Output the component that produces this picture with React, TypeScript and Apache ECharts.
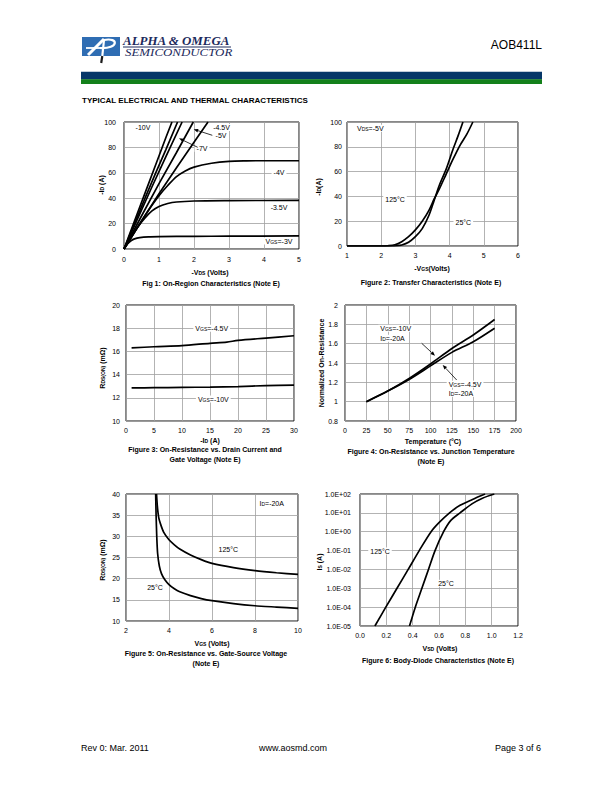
import React, { useEffect, useRef } from "react";
import * as echarts from "echarts";

// ---------- DATA ----------
// Fig 1: -ID vs -VDS for several VGS
const f1Vgs10 = [[0, 0], [0.3, 22], [0.6, 44], [0.9, 66], [1.2, 88], [1.37, 100]];
const f1Vgs7 = [[0, 0], [0.3, 20], [0.6, 40], [0.9, 59.5], [1.2, 78.5], [1.53, 100]];
const f1Vgs6 = [[0, 0], [0.4, 24.5], [0.8, 49], [1.2, 73], [1.66, 100]];
const f1Vgs5 = [[0, 0], [0.5, 26], [1, 51.5], [1.5, 76], [1.98, 100]];
const f1Vgs45 = [[0, 0], [0.5, 22], [1, 43.5], [1.5, 64], [2, 84], [2.4, 100]];
const f1Vgs4 = [[0, 0], [0.25, 11], [0.5, 22], [0.75, 32.5], [1, 42], [1.25, 50], [1.5, 57], [1.75, 61.5], [2, 64.5], [2.5, 67.5], [3, 69], [3.5, 69.4], [4, 69.5], [5, 69.5]];
const f1Vgs35 = [[0, 0], [0.2, 9], [0.4, 17.5], [0.6, 24.5], [0.8, 30], [1, 33.5], [1.25, 35.8], [1.5, 37], [2, 37.8], [3, 38.1], [5, 38.3]];
const f1Vgs3 = [[0, 0], [0.1, 4], [0.2, 6.5], [0.3, 8], [0.45, 9], [0.7, 9.6], [1, 9.8], [2, 10], [3, 10.1], [5, 10.3]];

// Fig 2: transfer characteristics
const f2T125 = [[1, 0], [2, 0], [2.2, 0.2], [2.4, 1], [2.6, 3.5], [2.8, 7.5], [3.0, 13], [3.2, 20], [3.4, 29], [3.55, 38], [3.7, 46], [3.9, 58], [4.1, 70], [4.3, 81], [4.5, 90], [4.68, 100]];
const f2T25 = [[1, 0], [2.3, 0], [2.45, 0.2], [2.6, 0.8], [2.8, 3], [3.0, 7.5], [3.2, 14], [3.4, 25], [3.55, 37], [3.7, 49], [3.9, 62], [4.1, 78], [4.25, 89], [4.39, 100]];

// Fig 3: RDS(ON) vs -ID
const f3Vgs45 = [[1, 16.3], [5, 16.4], [10, 16.5], [15, 16.7], [18, 16.8], [20, 16.95], [25, 17.15], [30, 17.35]];
const f3Vgs10 = [[1, 12.85], [5, 12.87], [10, 12.9], [15, 12.92], [20, 12.97], [25, 13.05], [30, 13.1]];

// Fig 4: normalized on-resistance vs temperature
const f4Temp = [25, 50, 75, 100, 125, 150, 175];
const f4Vgs10 = [1, 1.11, 1.24, 1.39, 1.55, 1.69, 1.85];
const f4Vgs45 = [1, 1.11, 1.23, 1.37, 1.51, 1.62, 1.76];

// Fig 5: RDS(ON) vs VGS
const f5T125 = [[3.42, 40], [3.46, 37], [3.52, 34.5], [3.6, 33], [3.75, 31], [4, 29.2], [4.25, 28], [4.5, 27], [5, 25.6], [5.5, 24.5], [6, 23.6], [7, 22.6], [8, 21.9], [9, 21.4], [10, 21]];
const f5T25 = [[3.38, 40], [3.4, 35], [3.43, 30], [3.47, 26], [3.55, 23], [3.65, 21.2], [3.8, 19.8], [4, 18.6], [4.25, 17.6], [4.5, 16.9], [5, 16], [5.5, 15.3], [6, 14.8], [7, 14.1], [8, 13.6], [9, 13.3], [10, 13]];

// Fig 6: body diode
const f6T125 = [[0.113, 1e-5], [0.196, 1e-4], [0.281, 1e-3], [0.366, 1e-2], [0.45, 1e-1], [0.54, 1], [0.6, 3], [0.68, 10], [0.76, 25], [0.85, 50], [0.95, 100]];
const f6T25 = [[0.376, 1e-5], [0.42, 1e-4], [0.47, 1e-3], [0.52, 1e-2], [0.57, 1e-1], [0.635, 1], [0.69, 4], [0.76, 10], [0.85, 30], [0.93, 60], [1.02, 100]];

// ---------- STYLE HELPERS ----------
const F = "Liberation Sans, Arial, sans-serif";
const SERIF = "Liberation Serif, DejaVu Serif, serif";

const RICH = {
  s: { fontSize: 5, fontFamily: F, fill: "#000", verticalAlign: "bottom", lineHeight: 6 },
  sb: { fontSize: 5, fontFamily: F, fill: "#000", fontWeight: "bold", verticalAlign: "bottom", lineHeight: 6 },
};

function T(x: number, y: number, text: string, o: any = {}) {
  return {
    type: "text",
    x,
    y,
    z: 100,
    rotation: o.rot || 0,
    scaleX: o.sx || 1,
    style: {
      text,
      fill: o.color || "#000",
      fontSize: o.size || 7,
      fontFamily: o.family || F,
      fontWeight: o.bold ? "bold" : "normal",
      fontStyle: o.italic ? "italic" : "normal",
      align: o.align || "center",
      verticalAlign: "middle",
      backgroundColor: o.bg ? "#fff" : undefined,
      padding: o.bg ? [0, 2] : undefined,
      rich: RICH,
    },
  };
}

function arrow(x1: number, y1: number, x2: number, y2: number) {
  const a = Math.atan2(y2 - y1, x2 - x1);
  const L = 4.5, Wd = 1.8;
  const bx = x2 - L * Math.cos(a), by = y2 - L * Math.sin(a);
  const px = -Math.sin(a) * Wd, py = Math.cos(a) * Wd;
  return [
    { type: "line", z: 100, shape: { x1, y1, x2: bx, y2: by }, style: { stroke: "#000", lineWidth: 0.8 } },
    { type: "polygon", z: 100, shape: { points: [[x2, y2], [bx + px, by + py], [bx - px, by - py]] }, style: { fill: "#000" } },
  ];
}

const grids = [
  { left: 124, top: 122, width: 175, height: 127 },
  { left: 347, top: 122, width: 171, height: 124 },
  { left: 126, top: 305, width: 168, height: 116 },
  { left: 345, top: 305, width: 171, height: 116 },
  { left: 126, top: 494, width: 172, height: 127 },
  { left: 360, top: 494, width: 158, height: 132 },
].map((g) => ({ ...g, show: true, borderColor: "#111", borderWidth: 1, backgroundColor: "#fff", containLabel: false }));

const splitLine = { show: true, lineStyle: { color: "#a0a0a0", width: 0.8 } };
function ax(gi: number, min: number, max: number, interval: number | undefined, margin: number, fmt?: any, type = "value") {
  const a: any = {
    gridIndex: gi,
    type,
    min,
    max,
    axisLine: { show: false },
    axisTick: { show: false },
    splitLine,
    axisLabel: { fontSize: 7, color: "#000", fontFamily: F, margin, formatter: fmt },
  };
  if (interval !== undefined) a.interval = interval;
  if (type === "log") a.logBase = 10;
  return a;
}

const expFmt = (v: number) => {
  const e = Math.round(Math.log10(v));
  return "1.0E" + (e < 0 ? "-" : "+") + String(Math.abs(e)).padStart(2, "0");
};

function line(gi: number, name: string, data: any, smooth = 0.3) {
  return {
    type: "line",
    name,
    xAxisIndex: gi,
    yAxisIndex: gi,
    data,
    showSymbol: false,
    symbol: "none",
    smooth,
    silent: true,
    lineStyle: { color: "#000", width: 1.7 },
    z: 5,
  };
}

const option: any = {
  animation: false,
  backgroundColor: "#fff",
  grid: grids,
  xAxis: [
    ax(0, 0, 5, 1, 7),
    ax(1, 1, 6, 1, 6),
    ax(2, 0, 30, 5, 6),
    ax(3, 0, 200, 25, 6),
    ax(4, 2, 10, 2, 6),
    ax(5, 0, 1.2, 0.2, 6, (v: number) => v.toFixed(1)),
  ],
  yAxis: [
    ax(0, 0, 100, 20, 8),
    ax(1, 0, 100, 20, 5),
    ax(2, 10, 20, 2, 6),
    ax(3, 0.8, 2, 0.2, 7),
    ax(4, 10, 40, 5, 6),
    ax(5, 1e-5, 100, undefined, 9, expFmt, "log"),
  ],
  series: [
    line(0, "VGS=-10V", f1Vgs10, 0),
    line(0, "VGS=-7V", f1Vgs7, 0),
    line(0, "VGS=-6V", f1Vgs6, 0),
    line(0, "VGS=-5V", f1Vgs5, 0),
    line(0, "VGS=-4.5V", f1Vgs45, 0),
    line(0, "VGS=-4V", f1Vgs4),
    line(0, "VGS=-3.5V", f1Vgs35),
    line(0, "VGS=-3V", f1Vgs3),
    line(1, "125°C", f2T125),
    line(1, "25°C", f2T25),
    line(2, "VGS=-4.5V", f3Vgs45),
    line(2, "VGS=-10V", f3Vgs10),
    line(3, "VGS=-10V", f4Temp.map((t, i) => [t, f4Vgs10[i]])),
    line(3, "VGS=-4.5V", f4Temp.map((t, i) => [t, f4Vgs45[i]])),
    line(4, "125°C", f5T125, 0.2),
    line(4, "25°C", f5T25, 0.2),
    line(5, "125°C", f6T125),
    line(5, "25°C", f6T25),
  ],
  graphic: [
    // ----- header -----
    { type: "rect", shape: { x: 82, y: 37, width: 38, height: 19 }, style: { fill: "#2f6db3" } },
    { type: "line", shape: { x1: 88, y1: 55, x2: 104, y2: 39 }, style: { stroke: "#fff", lineWidth: 3 } },
    { type: "bezierCurve", shape: { x1: 104, y1: 40, cpx1: 119, cpy1: 37, cpx2: 119, cpy2: 49, x2: 100, y2: 48 }, style: { stroke: "#fff", lineWidth: 2.2, fill: "none" } },
    { type: "line", shape: { x1: 86, y1: 48, x2: 100, y2: 48 }, style: { stroke: "#fff", lineWidth: 1.8 } },
    { type: "line", shape: { x1: 104, y1: 40, x2: 102.3, y2: 56 }, style: { stroke: "#fff", lineWidth: 2.2 } },
    { type: "line", shape: { x1: 102.3, y1: 56, x2: 101.2, y2: 63 }, style: { stroke: "#1a1a1a", lineWidth: 2.2 } },
    T(123, 41.5, "ALPHA & OMEGA", { align: "left", size: 12, bold: true, italic: true, family: SERIF, color: "#1c2a5c", sx: 1.08 }),
    { type: "line", shape: { x1: 123, y1: 47, x2: 231, y2: 47 }, style: { stroke: "#1c2a5c", lineWidth: 1 } },
    T(125, 52.5, "SEMICONDUCTOR", { align: "left", size: 9.5, italic: true, family: SERIF, color: "#1c2a5c", sx: 1.36 }),
    T(542, 45, "AOB411L", { align: "right", size: 12 }),
    { type: "rect", shape: { x: 81, y: 71.7, width: 461, height: 7.8 }, style: { fill: "#053668" } },
    { type: "rect", shape: { x: 81, y: 79.3, width: 461, height: 4.8 }, style: { fill: "#13801a" } },
    T(82, 100.5, "TYPICAL ELECTRICAL AND THERMAL CHARACTERISTICS", { align: "left", size: 8, bold: true }),

    // ----- fig 1 -----
    T(143, 127.5, "-10V", { bg: true }),
    T(221.5, 127.5, "-4.5V", { bg: true }),
    T(221, 135.7, "-5V", { bg: true }),
    T(202, 148.3, "-7V", { bg: true }),
    T(279, 172.7, "-4V", { bg: true }),
    T(279, 207.7, "-3.5V", { bg: true }),
    T(279, 241, "V{s|GS}=-3V", { bg: true }),
    ...arrow(212.3, 135.3, 193.7, 129.3),
    ...arrow(197.7, 147.3, 179, 138.3),
    T(101, 185, "-I{sb|D} (A)", { rot: Math.PI / 2, bold: true }),
    T(210, 272.3, "-V{sb|DS} (Volts)", { bold: true }),
    T(211, 283.3, "Fig 1: On-Region Characteristics (Note E)", { bold: true }),

    // ----- fig 2 -----
    T(355, 128.3, "V{s|DS}=-5V", { align: "left", bg: true }),
    T(395, 199.3, "125°C", { bg: true }),
    T(463.3, 222.3, "25°C", { bg: true }),
    T(318, 187, "-I{sb|D}(A)", { rot: Math.PI / 2, bold: true }),
    T(432, 268.3, "-V{sb|GS}(Volts)", { bold: true }),
    T(431, 282, "Figure 2: Transfer Characteristics (Note E)", { bold: true }),

    // ----- fig 3 -----
    T(211.7, 328.3, "V{s|GS}=-4.5V", { bg: true }),
    T(213.3, 399, "V{s|GS}=-10V", { bg: true }),
    T(102, 368, "R{sb|DS(ON)} (mΩ)", { rot: Math.PI / 2, bold: true }),
    T(210, 440, "-I{sb|D} (A)", { bold: true }),
    T(205, 449.5, "Figure 3: On-Resistance vs. Drain Current and", { bold: true }),
    T(205, 459.5, "Gate Voltage (Note E)", { bold: true }),

    // ----- fig 4 -----
    T(378.3, 328.3, "V{s|GS}=-10V", { align: "left", bg: true }),
    T(378.3, 338.3, "I{s|D}=-20A", { align: "left", bg: true }),
    T(446.7, 384.3, "V{s|GS}=-4.5V", { align: "left", bg: true }),
    T(446.7, 393.3, "I{s|D}=-20A", { align: "left", bg: true }),
    ...arrow(421.7, 343.3, 435, 355.7),
    ...arrow(456.7, 380, 442.7, 365),
    T(321, 363, "Normalized On-Resistance", { rot: Math.PI / 2, bold: true }),
    T(433, 441.7, "Temperature (°C)", { bold: true }),
    T(431, 451.5, "Figure 4: On-Resistance vs. Junction Temperature", { bold: true }),
    T(431, 461, "(Note E)", { bold: true }),

    // ----- fig 5 -----
    T(271.7, 503.3, "I{s|D}=-20A", { bg: true }),
    T(228.3, 549, "125°C", { bg: true }),
    T(155, 587.7, "25°C", { bg: true }),
    T(102, 560, "R{sb|DS(ON)} (mΩ)", { rot: Math.PI / 2, bold: true }),
    T(212, 643, "V{sb|GS} (Volts)", { bold: true }),
    T(206, 653, "Figure 5: On-Resistance vs. Gate-Source Voltage", { bold: true }),
    T(206, 663, "(Note E)", { bold: true }),

    // ----- fig 6 -----
    T(380, 551, "125°C", { bg: true }),
    T(446, 583.3, "25°C", { bg: true }),
    T(319, 562, "I{sb|S} (A)", { rot: Math.PI / 2, bold: true }),
    T(440, 648, "V{sb|SD} (Volts)", { bold: true }),
    T(438, 660, "Figure 6: Body-Diode Characteristics (Note E)", { bold: true }),

    // ----- footer -----
    T(81, 748, "Rev 0: Mar. 2011", { align: "left", size: 9 }),
    T(293, 748, "www.aosmd.com", { size: 9 }),
    T(541, 748, "Page 3 of 6", { align: "right", size: 9 }),
  ],
};

export default function App() {
  const ref = useRef<HTMLDivElement>(null);
  useEffect(() => {
    const chart = echarts.init(ref.current as HTMLDivElement, null, { renderer: "svg", width: 612, height: 792 });
    chart.setOption(option);
    return () => chart.dispose();
  }, []);
  return (
    <div
      ref={ref}
      style={{ position: "absolute", left: 0, top: 0, width: 612, height: 792, background: "#fff" }}
    />
  );
}
